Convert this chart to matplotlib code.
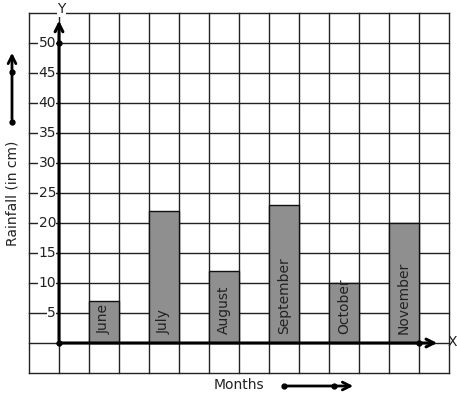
import matplotlib
matplotlib.use("Agg")
import matplotlib.pyplot as plt

months = ["June", "July", "August", "September", "October", "November"]
rainfall = [7, 22, 12, 23, 10, 20]
bar_pos = [1, 3, 5, 7, 9, 11]
yticks = [5, 10, 15, 20, 25, 30, 35, 40, 45, 50]

fig = plt.figure(figsize=(4.57, 3.99), dpi=100)
ax = fig.add_axes([0, 0, 1, 1])
W, H = 457, 399
x0, y0 = 59, 343
ax.set_xlim((0 - x0) / 30, (W - x0) / 30)
ax.set_ylim((y0 - H) / 6, y0 / 6)
ax.axis("off")

gc = "#222222"
for xv in range(-1, 14):
    ax.plot([xv, xv], [-5, 55], color=gc, lw=1.0, zorder=1)
for yv in range(-5, 56, 5):
    ax.plot([-1, 13], [yv, yv], color=gc, lw=1.0, zorder=1)

ax.bar(bar_pos, rainfall, width=1.0, align="edge", color="#8f8f8f",
       edgecolor="#111111", linewidth=1.0, zorder=2)
for p, m in zip(bar_pos, months):
    ax.text(p + 0.5, 1.5, m, rotation=90, ha="center", va="bottom",
            fontsize=10, color="#222222", zorder=3)

# axes
ax.annotate("", xy=(0, 54.2), xytext=(0, 0),
            arrowprops=dict(arrowstyle="->", lw=2.2, color="black",
                            mutation_scale=14), zorder=4)
ax.annotate("", xy=(12.7, 0), xytext=(0, 0),
            arrowprops=dict(arrowstyle="->", lw=2.2, color="black",
                            mutation_scale=14), zorder=4)
ax.plot([0, 0, 12], [0, 50, 0], "o", color="black", ms=3.5, zorder=5)

for t in yticks:
    ax.text(-0.1, t, str(t), ha="right", va="center", fontsize=10,
            color="#222222", zorder=3,
            bbox=dict(facecolor="white", edgecolor="none", pad=0.2))

ax.text(0.08, 55.6, "Y", ha="center", va="center", fontsize=10, color="#222222",
        zorder=3, bbox=dict(facecolor="white", edgecolor="none", pad=0.5))
ax.text(12.95, 0.1, "X", ha="left", va="center", fontsize=10, color="#222222", zorder=3)

# side arrow
xs = (12 - x0) / 30
ax.annotate("", xy=(xs, (y0 - 50) / 6), xytext=(xs, (y0 - 122) / 6),
            arrowprops=dict(arrowstyle="->", lw=2.0, color="black",
                            mutation_scale=14))
ax.plot([xs, xs], [(y0 - 122) / 6, (y0 - 72) / 6], "o", color="black", ms=3.5)
ax.text((12 - x0) / 30, (y0 - 193) / 6, "Rainfall (in cm)", rotation=90,
        ha="center", va="center", fontsize=10, color="#222222")

# bottom arrow
yb = (y0 - 386) / 6
ax.annotate("", xy=((356 - x0) / 30, yb), xytext=((284 - x0) / 30, yb),
            arrowprops=dict(arrowstyle="->", lw=2.0, color="black",
                            mutation_scale=14))
ax.plot([(284 - x0) / 30, (334 - x0) / 30], [yb, yb], "o", color="black", ms=3.5)
ax.text((239 - x0) / 30, (y0 - 385) / 6, "Months", ha="center", va="center",
        fontsize=10, color="#222222")

fig.savefig("out.png", dpi=100)
